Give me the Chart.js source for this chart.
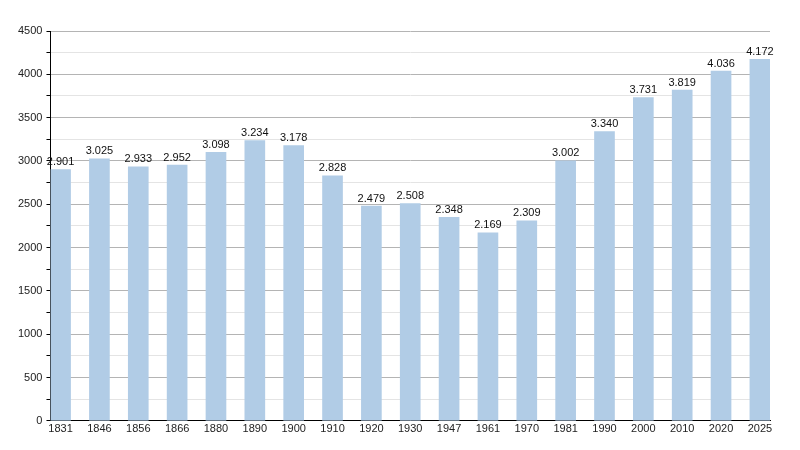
<!DOCTYPE html>
<html>
<head>
<meta charset="utf-8">
<script src="https://cdn.jsdelivr.net/npm/chart.js@4"></script>
<style>
  html, body { margin: 0; padding: 0; background: #fff; }
  #wrap { width: 800px; height: 450px; }
</style>
</head>
<body>
<div id="wrap"><canvas id="chart" width="800" height="450"></canvas></div>
<script>
// ─── DATA ────────────────────────────────────────────────────────────────────
const years  = ['1831','1846','1856','1866','1880','1890','1900','1910','1920','1930',
                '1947','1961','1970','1981','1990','2000','2010','2020','2025'];
const values = [2901, 3025, 2933, 2952, 3098, 3234, 3178, 2828, 2479, 2508,
                2348, 2169, 2309, 3002, 3340, 3731, 3819, 4036, 4172];
const yTicks = [0, 500, 1000, 1500, 2000, 2500, 3000, 3500, 4000, 4500];

Chart.defaults.font.family = "'Liberation Sans', Arial, sans-serif";
Chart.defaults.font.size   = 11;
Chart.defaults.color       = '#222';

const fmtDot = v => String(v).replace(/\B(?=(\d{3})+(?!\d))/g, '.');

// labels above each bar
const barLabels = {
  id: 'barLabels',
  afterDatasetsDraw(chart) {
    const { ctx } = chart;
    const meta = chart.getDatasetMeta(0);
    ctx.save();
    ctx.font = "11px 'Liberation Sans', Arial, sans-serif";
    ctx.fillStyle = '#111';
    ctx.textAlign = 'center';
    ctx.textBaseline = 'bottom';
    meta.data.forEach((bar, i) => ctx.fillText(fmtDot(values[i]), bar.x, bar.y - 2));
    ctx.restore();
  },
};

new Chart(document.getElementById('chart'), {
  type: 'bar',
  data: {
    datasets: [{
      data: values.map((v, i) => ({ x: i, y: v })),
      backgroundColor: '#b1cce6',
      borderWidth: 0,
      barThickness: 20,
    }],
  },
  options: {
    responsive: false, animation: false,
    layout: { padding: { top: 31, right: 30, left: 14, bottom: 12 } },
    plugins: { legend: { display: false }, tooltip: { enabled: false } },
    scales: {
      x: {
        type: 'linear', min: -0.26, max: 18.26, offset: false,
        afterBuildTicks: s => { s.ticks = years.map((_, i) => ({ value: i })); },
        ticks: { autoSkip: false, maxRotation: 0, padding: 2, color: '#222',
                 callback: v => years[v] },
        grid: { display: false, drawTicks: false, offset: false },
        border: { color: '#000', width: 1 },
      },
      y: {
        min: 0, max: 4500,
        afterBuildTicks: s => {
          const t = [];
          for (let v = 0; v <= 4500; v += 250) t.push({ value: v });
          s.ticks = t;
        },
        ticks: { autoSkip: false, padding: 4, color: '#222',
                 callback: v => yTicks.includes(v) ? v : '' },
        grid: {
          color: c => c.tick.value % 500 === 0 ? '#b4b4b4' : '#e4e4e4',
          tickColor: '#000', tickLength: 4,
        },
        border: { color: '#000', width: 1 },
      },
    },
  },
  plugins: [barLabels],
});
</script>
</body>
</html>
